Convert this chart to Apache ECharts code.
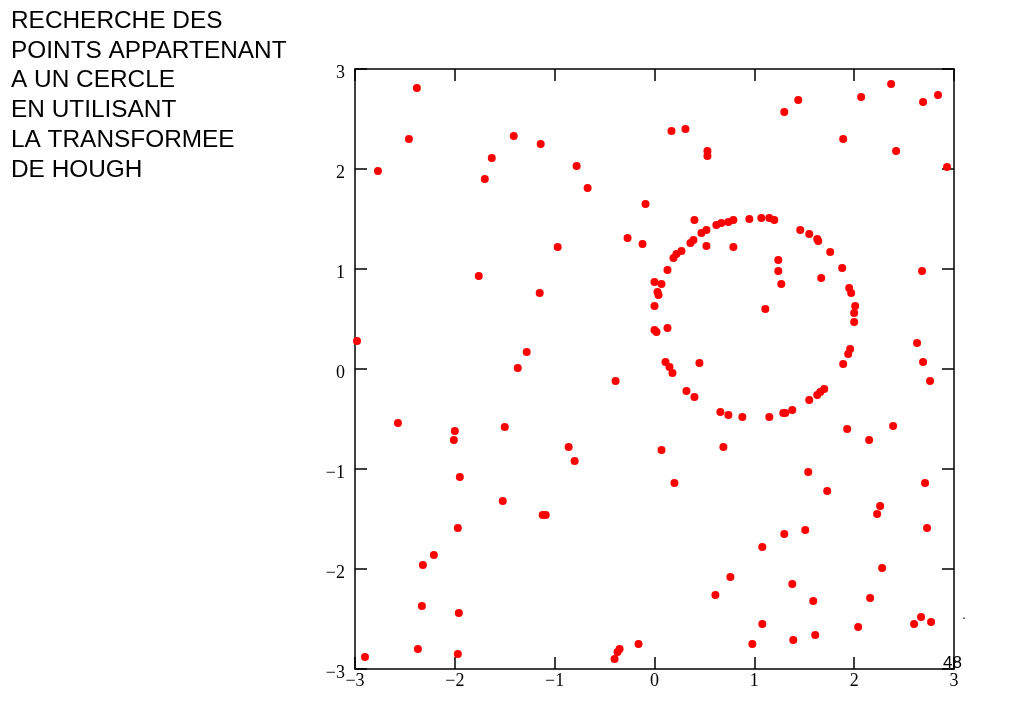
<!DOCTYPE html>
<html>
<head>
<meta charset="utf-8">
<script src="https://cdn.jsdelivr.net/npm/echarts@6/dist/echarts.min.js"></script>
<style>
html,body{margin:0;padding:0;background:#fff;}
#chart{width:1024px;height:709px;}
</style>
</head>
<body>
<div id="chart"></div>
<script>
// ---- data ----
var titleLines = ['RECHERCHE DES', 'POINTS APPARTENANT', 'A UN CERCLE', 'EN UTILISANT', 'LA TRANSFORMEE', 'DE HOUGH'];
var pageNumber = '48';
var axisTicks = [-3, -2, -1, 0, 1, 2, 3];

var pointX = [
  -2.38, -2.46, -2.77, -1.41, -1.14, -1.63, -1.70, -1.76, -1.15, -2.98,
  -1.28, -1.37, -0.78, -0.67, -0.09, 0.17, 0.31, 0.53, 0.53, -0.97,
  -0.27, -0.12, 0.40, 0.52, 0.47, 0.62, 0.67, 0.74, 0.79, 0.95,
  0.52, 0.79, 0.39, 0.36, 0.27, 0.22, 0.19, 0.13, 0.00, 0.07,
  0.03, 0.04, 0.00, 0.00, 0.02, 0.13, 0.11, 0.15, 0.45, 2.37,
  2.84, 2.69, 2.07, 1.44, 1.30, 1.89, 2.42, 2.93, 1.07, 1.15,
  1.20, 1.46, 1.55, 1.63, 1.64, 1.76, 1.88, 1.24, 1.24, 1.27,
  1.67, 2.68, 1.95, 1.97, 2.01, 2.00, 2.00, 1.11, 2.63, 2.69,
  1.96, 1.94, 1.89, 2.76, 0.88, 1.15, 1.29, 1.31, 1.38, 1.55,
  1.63, 1.66, 1.70, 1.93, 2.15, 2.39, 1.54, 1.73, 2.26, 2.23,
  2.71, 2.73, 1.30, 1.51, 1.08, 2.28, 1.38, 1.59, 2.16, 1.08,
  2.04, 2.60, 2.67, 2.77, 0.98, 1.39, 1.61, 0.18, -0.39, 0.32,
  0.40, 0.66, 0.74, -0.86, -0.80, 0.07, 0.69, 0.20, -1.12, -1.09,
  0.76, 0.61, -0.16, -0.35, -0.37, -0.40, -2.57, -2.00, -2.01, -1.50,
  -1.95, -1.52, -1.97, -2.21, -2.32, -2.33, -1.96, -2.37, -1.97, -2.90
];
var pointY = [
  2.81, 2.30, 1.98, 2.33, 2.25, 2.11, 1.90, 0.93, 0.76, 0.28,
  0.17, 0.01, 2.03, 1.81, 1.65, 2.38, 2.40, 2.18, 2.13, 1.22,
  1.31, 1.25, 1.49, 1.39, 1.36, 1.44, 1.46, 1.47, 1.49, 1.50,
  1.23, 1.22, 1.29, 1.26, 1.18, 1.15, 1.11, 0.99, 0.87, 0.85,
  0.77, 0.74, 0.63, 0.39, 0.37, 0.41, 0.07, 0.02, 0.06, 2.85,
  2.74, 2.67, 2.72, 2.69, 2.57, 2.30, 2.18, 2.02, 1.51, 1.51,
  1.49, 1.39, 1.35, 1.30, 1.28, 1.17, 1.01, 1.09, 0.98, 0.85,
  0.91, 0.98, 0.81, 0.76, 0.63, 0.56, 0.47, 0.60, 0.26, 0.07,
  0.20, 0.15, 0.05, -0.12, -0.48, -0.48, -0.44, -0.44, -0.41, -0.31,
  -0.26, -0.23, -0.20, -0.60, -0.71, -0.57, -1.03, -1.22, -1.37, -1.45,
  -1.14, -1.59, -1.65, -1.61, -1.78, -1.99, -2.15, -2.32, -2.29, -2.55,
  -2.58, -2.55, -2.48, -2.53, -2.75, -2.71, -2.66, -0.04, -0.12, -0.22,
  -0.28, -0.43, -0.46, -0.78, -0.92, -0.81, -0.78, -1.14, -1.46, -1.46,
  -2.08, -2.26, -2.75, -2.80, -2.83, -2.90, -0.54, -0.62, -0.71, -0.58,
  -1.08, -1.32, -1.59, -1.86, -1.96, -2.37, -2.44, -2.80, -2.85, -2.88
];

// ---- build ----
var points = pointX.map(function (x, i) { return [x, pointY[i]]; });
var axMin = axisTicks[0], axMax = axisTicks[axisTicks.length - 1];
function fmt(v) { return String(v).replace('-', '\u2212'); }

var lineStyle = { color: '#000', width: 1.5 };
function makeAxis(pos, showLabel, margin) {
  var label = {
    show: showLabel, margin: margin, formatter: fmt,
    fontFamily: 'Liberation Serif', fontSize: 18, color: '#000'
  };
  if (pos === 'left') { label.verticalAlign = 'top'; label.lineHeight = 8; }
  return {
    type: 'value', position: pos, min: axMin, max: axMax, interval: 1,
    axisLine: { show: true, onZero: false, lineStyle: lineStyle },
    axisTick: { show: true, inside: true, length: 12, lineStyle: lineStyle },
    splitLine: { show: false },
    axisLabel: label
  };
}

var titleGraphics = titleLines.map(function (t, i) {
  return {
    type: 'text', left: 11, top: 9 + i * 29.8,
    style: { text: t, fontFamily: 'Liberation Sans', fontSize: 24.4, fill: '#000' }
  };
});

var chart = echarts.init(document.getElementById('chart'), null, { renderer: 'canvas' });
chart.setOption({
  animation: false,
  backgroundColor: '#fff',
  grid: { left: 355, top: 69, width: 599, height: 600, containLabel: false },
  xAxis: [makeAxis('bottom', true, 3), makeAxis('top', false, 4)],
  yAxis: [makeAxis('left', true, 10), makeAxis('right', false, 4)],
  graphic: titleGraphics.concat([
    { type: 'text', left: 943, top: 655,
      style: { text: pageNumber, fontFamily: 'Liberation Sans', fontSize: 17, fill: '#000' } },
    { type: 'text', left: 962, top: 608,
      style: { text: '.', fontFamily: 'Liberation Sans', fontSize: 14, fill: '#000' } }
  ]),
  series: [{
    type: 'scatter', xAxisIndex: 0, yAxisIndex: 0,
    data: points, symbol: 'circle', symbolSize: 8,
    itemStyle: { color: '#ff0000', opacity: 1 },
    clip: false
  }]
});
</script>
</body>
</html>
